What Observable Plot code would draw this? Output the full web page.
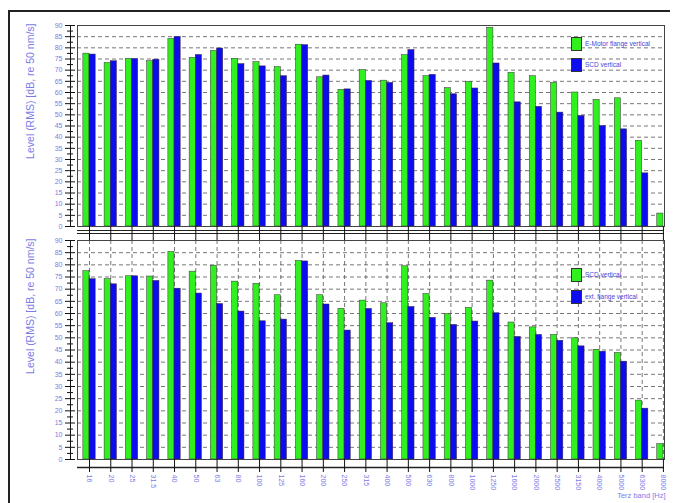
<!DOCTYPE html>
<html><head><meta charset="utf-8">
<script src="https://cdn.jsdelivr.net/npm/d3@7"></script>
<script src="https://cdn.jsdelivr.net/npm/@observablehq/plot@0.6"></script>
<style>
body{margin:0;background:#fff;font-family:"Liberation Sans",Arial,sans-serif;}
#wrap{position:relative;width:675px;height:503px;overflow:hidden;background:#fff;}
.frame{position:absolute;left:8px;top:10px;width:662px;height:510px;border-top:2px solid #222;border-left:2px solid #222;box-sizing:border-box;}
.plot{position:absolute;left:0;}
.sw{position:absolute;width:11px;height:14px;border:1px solid #333;box-sizing:border-box;}
.lt{position:absolute;font-size:6.5px;color:#4646d8;white-space:nowrap;line-height:8px;}
</style>
</head><body>
<div id="wrap"><div class="frame"></div></div>
<script>
const bands = ["16","20","25","31.5","40","50","63","80","100","125","160","200","250","315","400","500","630","800","1000","1250","1600","2000","2500","3150","4000","5000","6300","8000"];

const topSeriesNames = ["E-Motor flange vertical", "SCD vertical"];
const topGreen = [77.4, 73.2, 75, 74, 84, 75.5, 78.6, 75, 73.6, 71.4, 81.4, 66.8, 61.2, 70, 65.3, 76.7, 67.3, 62, 64.7, 89, 68.8, 67.3, 64.3, 60, 56.7, 57.4, 38.4, 5.8];
const topBlue  = [77, 74, 75, 74.7, 84.9, 76.8, 79.7, 72.7, 71.7, 67.3, 81.2, 67.6, 61.4, 65.2, 64.3, 79, 67.9, 59.2, 61.8, 73, 55.6, 53.6, 51, 49.5, 45, 43.5, 23.8, null];

const botSeriesNames = ["SCD vertical", "ext. flange vertical"];
const botGreen = [77.4, 74.1, 75.3, 75.2, 85.3, 77.2, 79.6, 73.1, 72.2, 67.5, 81.6, 67.5, 61.9, 65.3, 64.2, 79.4, 68, 59.8, 62.3, 73.5, 56.3, 54.3, 51.2, 49.8, 45.1, 43.8, 24.2, 6.3];
const botBlue  = [74.1, 72, 75.3, 73.4, 70.2, 68.2, 63.9, 60.8, 56.8, 57.5, 81.4, 63.7, 53, 61.9, 56, 62.7, 58.2, 55.3, 56.7, 60.1, 50.4, 51.2, 48.8, 46.5, 44.3, 40.2, 20.9, null];

const yTitle = "Level (RMS) [dB, re 50 nm/s]";
const xTitle = "Terz band [Hz]";
const majorTicks = d3.range(0, 91, 5);
const minorTicks = d3.range(2.5, 90, 5);
const gridTicks = d3.range(5, 90, 5);

const GREEN = "#30f020", BLUE = "#0c0cee", TXT = "#7c7ce6";
const xDomain = [-0.565, 27.05];
const W = 0.29;

function rows(g, b) {
  const r = [];
  bands.forEach((c, i) => {
    if (g[i] != null) r.push({i, c, s: 0, v: g[i]});
    if (b[i] != null) r.push({i, c, s: 1, v: b[i]});
  });
  return r;
}

function panel({green, blue, height, marginTop, marginBottom, bottom}) {
  const data = rows(green, blue);
  const idx = d3.range(bands.length);
  const marks = [
    Plot.ruleY(gridTicks, {stroke: "#555", strokeDasharray: "4,3", strokeWidth: 0.8}),
  ];
  if (bottom) marks.push(Plot.ruleX(idx, {stroke: "#555", strokeDasharray: "4,3", strokeWidth: 0.8}));
  marks.push(
    Plot.rectY(data, {
      x1: d => d.i - (d.s === 0 ? W : 0),
      x2: d => d.i + (d.s === 1 ? W : 0),
      y1: 0, y2: "v",
      fill: d => d.s === 0 ? GREEN : BLUE,
      stroke: "#3a2a3a", strokeWidth: 0.5, clip: true
    }),
    Plot.frame({stroke: "#444"}),
    Plot.ruleX([xDomain[0]], {dx: -7, stroke: "#111"}),
    Plot.axisY({ticks: majorTicks, tickSize: 10, dx: -2, tickPadding: 3, fontSize: 7, fill: TXT, stroke: "#111"}),
    Plot.axisY({ticks: minorTicks, tickSize: 6, dx: -4, tickFormat: () => "", stroke: "#111"}),
    Plot.text([yTitle], {frameAnchor: "top-left", rotate: -90, textAnchor: "end", dx: -51, dy: -2, fontSize: 10.5, fill: TXT})
  );
  if (!bottom) {
    marks.push(
      Plot.ruleY([0], {dy: 4, stroke: "#222"}),
      Plot.ruleY([0], {dy: 7, stroke: "#222"}),
      Plot.axisX({ticks: idx, tickSize: 14, tickFormat: () => "", stroke: "#111"})
    );
  } else {
    marks.push(
      Plot.ruleY([0], {dy: 8, stroke: "#222", strokeWidth: 1.5}),
      Plot.axisX({ticks: idx, tickSize: 13, tickRotate: 90, tickPadding: 2, tickFormat: i => bands[i], fontSize: 7, fill: TXT, stroke: "#111"}),
      Plot.text([xTitle], {frameAnchor: "bottom-right", textAnchor: "end", dy: 38, dx: 1, fontSize: 7.5, fill: TXT})
    );
  }
  return Plot.plot({
    width: 675, height, marginLeft: 77, marginRight: 11, marginTop, marginBottom,
    style: {fontFamily: "Liberation Sans, Arial, sans-serif", background: "transparent", overflow: "visible"},
    x: {type: "linear", domain: xDomain, label: null},
    y: {domain: [0, 90], label: null},
    marks
  });
}

const wrap = document.getElementById("wrap");
function place(el, top) { el.classList.add("plot"); el.style.top = top + "px"; wrap.appendChild(el); }
place(panel({green: topGreen, blue: topBlue, height: 240, marginTop: 25, marginBottom: 14, bottom: false}), 0);
place(panel({green: botGreen, blue: botBlue, height: 273, marginTop: 10, marginBottom: 44, bottom: true}), 230);

function legend(names, y1, y2) {
  [[names[0], GREEN, y1], [names[1], BLUE, y2]].forEach(([n, col, y]) => {
    const s = document.createElement("div"); s.className = "sw";
    s.style.left = "571px"; s.style.top = y + "px"; s.style.background = col; wrap.appendChild(s);
    const t = document.createElement("div"); t.className = "lt"; t.textContent = n;
    t.style.left = "585px"; t.style.top = (y + 3) + "px"; wrap.appendChild(t);
  });
}
legend(topSeriesNames, 37, 58);
legend(botSeriesNames, 268, 290);
</script>
</body></html>
